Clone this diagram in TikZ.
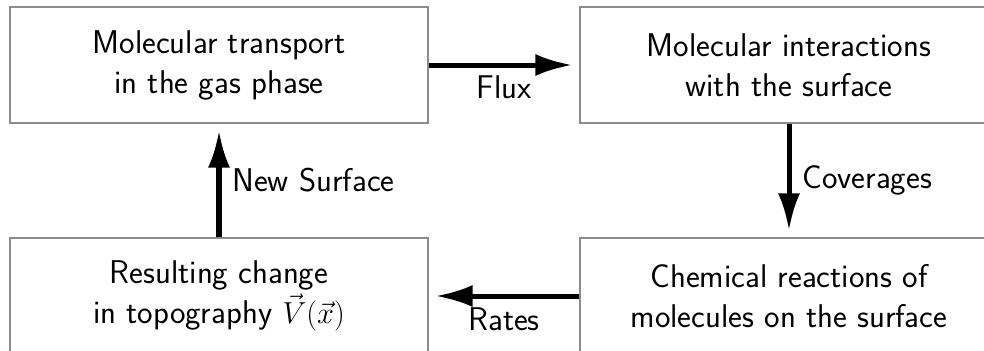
\documentclass[tikz,border=0pt]{standalone}
\usetikzlibrary{arrows.meta}

\tikzset{
  stage/.style={draw=gray!90, line width=1.3pt, minimum width=8.36cm,
                minimum height=2.32cm, align=center,
                font=\sffamily\fontsize{18.7}{22.8}\selectfont},
  flow/.style={-{Latex[length=0.74cm,width=0.44cm]}, line width=2.85pt,
               shorten >=0.13cm},
  flowlabel/.style={font=\sffamily\fontsize{18.7}{22}\selectfont}
}

\begin{document}
\begin{tikzpicture}
  \useasboundingbox (0,0) rectangle (19.68,-7);
  \node[stage](gas)   at (4.38,-1.30)  {Molecular transport\\in the gas phase};
  \node[stage](surf)  at (15.78,-1.30) {Molecular interactions\\with the surface};
  \node[stage](chem)  at (15.78,-5.92) {Chemical reactions of\\molecules on the surface};
  \node[stage](topo)  at (4.38,-5.92)  {Resulting change\\in topography $\vec{V}(\vec{x})$};
  \draw[flow] (gas)  -- node[flowlabel, below, yshift=-0.04cm] {Flux}        (surf);
  \draw[flow] (surf) -- node[flowlabel, right, xshift=0.1cm]   {Coverages}   (chem);
  \draw[flow] (chem) -- node[flowlabel, below, yshift=-0.06cm] {Rates}       (topo);
  \draw[flow] (topo) -- node[flowlabel, right, xshift=0.1cm]   {New Surface} (gas);
\end{tikzpicture}
\end{document}
